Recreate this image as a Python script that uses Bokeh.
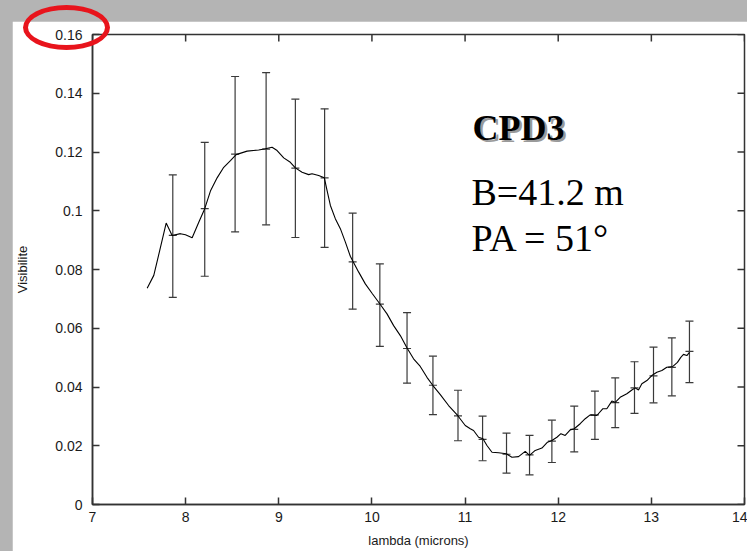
import numpy as np
from bokeh.plotting import figure
from bokeh.layouts import column
from bokeh.models import (FixedTicker, Whisker, TeeHead, ColumnDataSource, Label, Range1d, Div)
from bokeh.embed import file_html
from bokeh.resources import INLINE

# ---------------- data ----------------
lam_curve = [7.587, 7.658, 7.722, 7.791, 7.855, 7.944, 7.998, 8.070, 8.141, 8.205,
             8.266, 8.338, 8.409, 8.481, 8.542, 8.660, 8.784, 8.856, 8.928, 8.982,
             9.053, 9.124, 9.178, 9.250, 9.321, 9.357, 9.428, 9.489, 9.518, 9.554,
             9.607, 9.661, 9.715, 9.768, 9.797, 9.858, 9.929, 10.001, 10.090, 10.162,
             10.233, 10.305, 10.377, 10.447, 10.519, 10.591, 10.655, 10.734, 10.823, 10.920,
             11.002, 11.056, 11.091, 11.145, 11.192, 11.235, 11.289, 11.360, 11.442, 11.503,
             11.574, 11.646, 11.692, 11.753, 11.825, 11.885, 11.932, 11.986, 12.029, 12.075,
             12.129, 12.172, 12.236, 12.290, 12.343, 12.415, 12.480, 12.522, 12.576, 12.612,
             12.665, 12.737, 12.791, 12.826, 12.862, 12.898, 12.952, 13.005, 13.059, 13.113,
             13.166, 13.231, 13.280, 13.316, 13.345, 13.381, 13.409]
vis_curve = [0.0736, 0.0780, 0.0865, 0.0958, 0.0916, 0.0922, 0.0918, 0.0908, 0.0961, 0.1007,
             0.1067, 0.1112, 0.1148, 0.1171, 0.1191, 0.1203, 0.1207, 0.1211, 0.1216, 0.1205,
             0.1180, 0.1165, 0.1146, 0.1131, 0.1123, 0.1126, 0.1120, 0.1112, 0.1069, 0.1018,
             0.0973, 0.0939, 0.0893, 0.0845, 0.0827, 0.0791, 0.0751, 0.0719, 0.0681, 0.0649,
             0.0609, 0.0575, 0.0533, 0.0496, 0.0470, 0.0433, 0.0405, 0.0374, 0.0337, 0.0303,
             0.0269, 0.0258, 0.0252, 0.0229, 0.0224, 0.0201, 0.0178, 0.0176, 0.0173, 0.0161,
             0.0163, 0.0181, 0.0167, 0.0184, 0.0192, 0.0212, 0.0218, 0.0229, 0.0241, 0.0235,
             0.0254, 0.0258, 0.0275, 0.0292, 0.0305, 0.0303, 0.0326, 0.0326, 0.0352, 0.0348,
             0.0365, 0.0377, 0.0390, 0.0397, 0.0390, 0.0411, 0.0422, 0.0439, 0.0450, 0.0456,
             0.0467, 0.0470, 0.0484, 0.0501, 0.0511, 0.0507, 0.0518]

lam_err = [7.862, 8.205, 8.531, 8.864, 9.178, 9.492, 9.793, 10.085, 10.377, 10.655, 10.924,
           11.188, 11.445, 11.692, 11.932, 12.172, 12.394, 12.612, 12.819, 13.023, 13.220, 13.409]
vis_err_mid = [0.0916, 0.1007, 0.1193, 0.1210, 0.1145, 0.1112, 0.0826, 0.0682, 0.0531, 0.0406,
               0.0302, 0.0222, 0.0171, 0.0169, 0.0216, 0.0256, 0.0305, 0.0347, 0.0397, 0.0438,
               0.0467, 0.0521]
vis_err_hi = [0.1122, 0.1233, 0.1457, 0.1470, 0.1380, 0.1347, 0.0992, 0.0819, 0.0653, 0.0505,
              0.0389, 0.0301, 0.0243, 0.0235, 0.0287, 0.0335, 0.0386, 0.0431, 0.0486, 0.0536,
              0.0567, 0.0624]
vis_err_lo = [0.0705, 0.0777, 0.0928, 0.0952, 0.0909, 0.0875, 0.0665, 0.0538, 0.0413, 0.0306,
              0.0217, 0.0149, 0.0107, 0.0101, 0.0143, 0.0179, 0.0222, 0.0262, 0.0310, 0.0346,
              0.0370, 0.0415]

x_ticks = [7, 8, 9, 10, 11, 12, 13, 14]
x_tick_labels = ["7", "8", "9", "10", "11", "12", "13", "14"]
y_ticks = [0, 0.02, 0.04, 0.06, 0.08, 0.1, 0.12, 0.14, 0.16]
y_tick_labels = ["0", "0.02", "0.04", "0.06", "0.08", "0.1", "0.12", "0.14", "0.16"]

title_text = "CPD3"
info_lines = ["B=41.2 m", "PA = 51°"]
x_label = "lambda (microns)"
y_label = "Visibilite"

# ---------------- layout geometry (page pixels) ----------------
PAGE_W, PAGE_H = 747, 551
PAD_L, PAD_T = 12, 21                # grey margin around the white sheet
W, H = PAGE_W - PAD_L, PAGE_H - PAD_T
FL, FR, FT, FB = 92 - PAD_L, 744 - PAD_L, 34 - PAD_T, 504 - PAD_T
X0, X1 = 7, 14
Y0, Y1 = 0, 0.16


def px_to_x(px):
    return X0 + (px - PAD_L - FL) * (X1 - X0) / (FR - FL)


def py_to_y(py):
    return Y0 + (FB - (py - PAD_T)) * (Y1 - Y0) / (FB - FT)


FONT = "Liberation Sans"
SERIF = "Liberation Serif"
AX = "#333333"
GREY_BG = "#b4b4b4"

p = figure(width=W, height=H, x_range=Range1d(X0, X1), y_range=Range1d(Y0, Y1),
           output_backend="svg", toolbar_location=None,
           min_border_left=FL, min_border_right=W - FR, min_border_top=FT,
           min_border_bottom=H - FB,
           x_axis_label=x_label, y_axis_label=y_label)
p.grid.visible = False
p.border_fill_color = "white"
p.background_fill_color = "white"
p.outline_line_color = AX
p.outline_line_width = 1.5


def style_axis(ax):
    ax.major_tick_in = 7
    ax.major_tick_out = 0
    ax.minor_tick_line_color = None
    ax.axis_line_color = AX
    ax.axis_line_width = 1.5
    ax.major_tick_line_color = AX
    ax.major_tick_line_width = 1.5
    ax.major_label_text_font = FONT
    ax.major_label_text_font_size = "14px"
    ax.major_label_text_color = "#1a1a1a"
    ax.axis_label_text_font = FONT
    ax.axis_label_text_font_size = "13px"
    ax.axis_label_text_font_style = "normal"
    ax.axis_label_text_color = "#1a1a1a"


xa = p.xaxis[0]
ya = p.yaxis[0]
style_axis(xa)
style_axis(ya)
xa.ticker = FixedTicker(ticks=x_ticks)
xa.major_label_overrides = dict(zip(x_ticks, x_tick_labels))
ya.ticker = FixedTicker(ticks=y_ticks)
ya.major_label_overrides = dict(zip(y_ticks, y_tick_labels))
xa.major_label_standoff = 7
xa.axis_label_standoff = 8
ya.major_label_standoff = 10
ya.axis_label_standoff = 22

# mirrored ticks on top and right edges (half of each dash is clipped by the frame)
p.scatter(x_ticks, [Y1] * len(x_ticks), marker="dash", angle=np.pi / 2, size=14,
          line_color=AX, line_width=1.5)
p.scatter([X1] * len(y_ticks), y_ticks, marker="dash", size=14,
          line_color=AX, line_width=1.5)

# error bars
src_err = ColumnDataSource(dict(x=lam_err, mid=vis_err_mid, lo=vis_err_lo, hi=vis_err_hi))
p.add_layout(Whisker(source=src_err, base="x", upper="hi", lower="lo",
                     line_color="#3a3a3a", line_width=1.2,
                     upper_head=TeeHead(size=8, line_color="#3a3a3a", line_width=1.2),
                     lower_head=TeeHead(size=8, line_color="#3a3a3a", line_width=1.2)))
p.scatter("x", "mid", source=src_err, marker="dash", size=8, line_color="#3a3a3a",
          line_width=1.2)

# visibility curve
p.line(lam_curve, vis_curve, line_color="black", line_width=1.1)

# annotation texts
p.add_layout(Label(x=px_to_x(472), y=py_to_y(127), text=title_text, x_offset=2.5, y_offset=-2.5,
                   text_font=SERIF, text_font_style="bold", text_font_size="36px",
                   text_color="#9a9a9a", text_baseline="alphabetic"))
p.add_layout(Label(x=px_to_x(472), y=py_to_y(127), text=title_text,
                   text_font=SERIF, text_font_style="bold", text_font_size="36px",
                   text_color="black", text_baseline="alphabetic"))
for txt, base in zip(info_lines, (191, 237)):
    p.add_layout(Label(x=px_to_x(471), y=py_to_y(base), text=txt,
                       text_font=SERIF, text_font_size="38px",
                       text_color="black", text_baseline="alphabetic"))

# red ellipse highlighting the top tick label (overlaps the grey margin)
ellipse = Div(text="", width=87, height=45, margin=0,
              styles={"position": "absolute", "left": "23px", "top": "5px",
                      "width": "87px", "height": "45px", "margin": "0px",
                      "box-sizing": "border-box",
                      "border": "5px solid #e8141c", "border-radius": "50%",
                      "z-index": "10", "pointer-events": "none"})

page = column(p, ellipse,
              styles={"background-color": GREY_BG, "padding": f"{PAD_T}px 0px 0px {PAD_L}px",
                      "position": "relative"})

open("out.html", "w").write(file_html(page, INLINE))
